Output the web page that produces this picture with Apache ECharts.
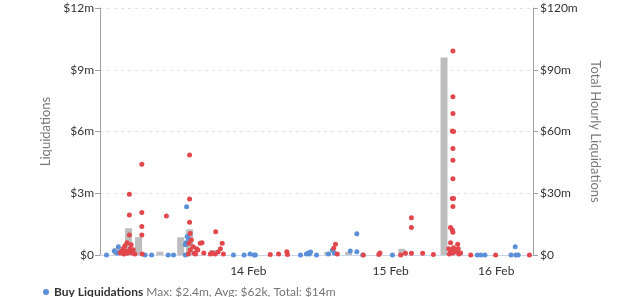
<!DOCTYPE html>
<html>
<head>
<meta charset="utf-8">
<script src="https://cdn.jsdelivr.net/npm/echarts@6/dist/echarts.min.js"></script>
<style>html,body{margin:0;padding:0;background:#fff}#c{width:640px;height:297px}</style>
</head>
<body>
<div id="c"></div>
<script>
// x values are hours from the start of the visible window
var xTickHours = [25, 49, 66.8];
var xTickLabels = ['14 Feb', '15 Feb', '16 Feb'];
var leftTicks = [0, 3, 6, 9, 12];      // $m
var rightTicks = [0, 30, 60, 90, 120]; // $m

// Total hourly liquidations (right axis, $m): [hour, value]
var hourlyTotals = [
  [2.8, 3.4], [4.8, 13], [6.5, 8.7], [10.1, 1.6], [13.6, 8.6], [15.1, 12.5],
  [19.0, 2.4], [38.4, 1.5], [41.9, 1.5], [50.9, 3.0], [58.0, 96]
];

// Sell liquidations (left axis, $m)
var sellLiq = [
  [4.95, 2.95], [7.05, 4.41], [4.95, 1.94], [7.05, 2.06], [7.05, 1.38], [7.05, 0.97],
  [4.95, 0.97], [4.55, 0.6], [4.2, 0.45], [5.25, 0.5], [3.9, 0.3], [4.4, 0.2],
  [4.9, 0.15], [5.4, 0.1], [3.4, 0.1], [4.05, 0.05], [5.9, 0.05], [7.1, 0.05],
  [3.7, 0.2], [5.1, 0.3], [4.6, 0.08], [5.6, 0.25],
  [11.2, 1.9],
  [15.1, 4.86], [15.1, 2.72], [15.1, 1.59], [15.2, 1.05], [15.4, 0.73], [15.0, 0.57],
  [15.7, 0.4], [15.2, 0.24], [15.9, 0.08], [16.1, 0.05], [14.9, 0.05], [16.9, 0.57],
  [17.2, 0.6], [16.5, 0.24], [17.5, 0.1], [16.3, 0.3],
  [19.5, 1.13], [20.6, 0.57], [20.3, 0.3], [18.9, 0.1], [19.4, 0.05], [19.9, 0.15],
  [20.8, 0.05], [18.6, 0.05],
  [28.7, 0.02], [30.1, 0.05], [31.5, 0.16], [31.6, 0.02],
  [39.7, 0.52], [39.4, 0.33], [40.0, 0.05],
  [44.4, 0.0], [47.2, 0.1], [47.0, 0.02], [50.7, 0.0], [51.5, 0.08],
  [52.5, 1.81], [52.5, 1.33], [52.5, 0.08], [54.4, 0.08], [56.2, 0.02],
  [59.5, 9.91], [59.5, 7.69], [59.5, 6.87], [59.4, 6.02], [59.6, 6.0], [59.5, 5.17],
  [59.5, 4.6], [59.5, 3.71], [59.4, 2.74], [59.6, 2.74], [59.5, 2.36], [59.1, 1.33],
  [59.4, 1.21], [59.5, 1.1], [59.1, 0.6], [60.3, 0.52], [58.8, 0.3], [59.1, 0.2],
  [59.5, 0.1], [59.8, 0.25], [60.2, 0.15], [60.5, 0.05], [60.8, 0.1], [58.9, 0.05],
  [59.6, 0.35], [60.4, 0.3],
  [62.5, 0.0], [66.7, 0.0], [72.4, 0.0]
];

// Buy liquidations (left axis, $m)
var buyLiq = [
  [1.1, 0.0], [2.4, 0.2], [3.1, 0.4], [2.9, 0.1], [3.4, 0.15],
  [7.6, 0.0], [8.7, 0.0], [11.5, 0.0], [12.4, 0.0],
  [14.6, 2.35], [14.7, 0.9], [14.9, 0.8], [14.4, 0.5], [14.5, 0.6], [14.4, 0.0],
  [22.5, 0.0], [24.3, 0.0], [25.3, 0.05], [26.2, 0.0], [26.0, 0.0],
  [33.8, 0.0], [35.1, 0.1], [35.5, 0.15], [35.3, 0.05], [34.8, 0.05], [36.5, 0.0],
  [38.5, 0.05], [39.2, 0.24], [39.5, 0.1], [42.2, 0.2], [43.3, 1.03], [43.3, 0.16],
  [44.3, 0.0], [49.3, 0.0],
  [63.6, 0.0], [64.2, 0.0], [64.9, 0.0], [69.3, 0.0], [70.1, 0.0], [70.5, 0.0], [70.0, 0.4]
];

var legendStats = 'Max: $2.4m, Avg: $62k, Total: $14m';
var FONT = 'Lato';

function money(v) { return v === 0 ? '$0' : '$' + v + 'm'; }

var chart = echarts.init(document.getElementById('c'), null, {renderer: 'canvas'});
chart.setOption({
  animation: false,
  textStyle: {fontFamily: FONT},
  grid: {left: 100, right: 107, top: 8, bottom: 42, containLabel: false},
  legend: {
    data: ['Buy Liquidations'],
    left: 38, top: 281,
    itemWidth: 6, itemHeight: 6, itemGap: 10,
    icon: 'circle',
    formatter: function (n) { return '{b|' + n + '} {n|' + legendStats + '}'; },
    textStyle: {
      fontFamily: FONT,
      rich: {
        b: {fontFamily: FONT, fontWeight: 'bold', fontSize: 12, color: '#333'},
        n: {fontFamily: FONT, fontSize: 12, color: '#777'}
      }
    }
  },
  xAxis: {
    type: 'value', min: 0, max: 73,
    axisLine: {show: true, lineStyle: {color: '#ccd6eb'}},
    axisTick: {show: false},
    splitLine: {show: false},
    axisLabel: {
      customValues: xTickHours,
      formatter: function (v) {
        for (var i = 0; i < xTickHours.length; i++) if (Math.abs(xTickHours[i] - v) < 1e-6) return xTickLabels[i];
        return '';
      },
      color: '#333', fontSize: 12, fontFamily: FONT, margin: 10
    }
  },
  yAxis: [{
    type: 'value', min: leftTicks[0], max: leftTicks[leftTicks.length - 1], interval: 3,
    name: 'Liquidations', nameLocation: 'middle', nameGap: 43,
    nameTextStyle: {color: '#777', fontSize: 13, fontFamily: FONT},
    axisLine: {show: true, lineStyle: {color: '#a0a0a0'}},
    axisTick: {show: true, length: 5, lineStyle: {color: '#a0a0a0'}},
    axisLabel: {formatter: money, color: '#333', fontSize: 12, fontFamily: FONT, margin: 6},
    splitLine: {show: true, lineStyle: {color: '#e2e2e2', type: [3, 4]}}
  }, {
    type: 'value', position: 'right', min: rightTicks[0], max: rightTicks[rightTicks.length - 1], interval: 30,
    name: 'Total Hourly Liquidations', nameLocation: 'middle', nameGap: 51, nameRotate: -90,
    nameTextStyle: {color: '#777', fontSize: 13, fontFamily: FONT},
    axisLine: {show: true, lineStyle: {color: '#a0a0a0'}},
    axisTick: {show: true, length: 5, lineStyle: {color: '#a0a0a0'}},
    axisLabel: {formatter: money, color: '#333', fontSize: 12, fontFamily: FONT, margin: 7},
    splitLine: {show: false}
  }],
  series: [{
    name: 'Total Hourly Liquidations', type: 'bar', yAxisIndex: 1,
    data: hourlyTotals, barWidth: 7,
    itemStyle: {color: '#bdbdbd'}
  }, {
    name: 'Buy Liquidations', type: 'scatter', yAxisIndex: 0,
    data: buyLiq, symbolSize: 5,
    itemStyle: {color: '#5b8fd9', opacity: 1}
  }, {
    name: 'Sell Liquidations', type: 'scatter', yAxisIndex: 0,
    data: sellLiq, symbolSize: 5,
    itemStyle: {color: '#e2474c', opacity: 1}
  }]
});
</script>
</body>
</html>
